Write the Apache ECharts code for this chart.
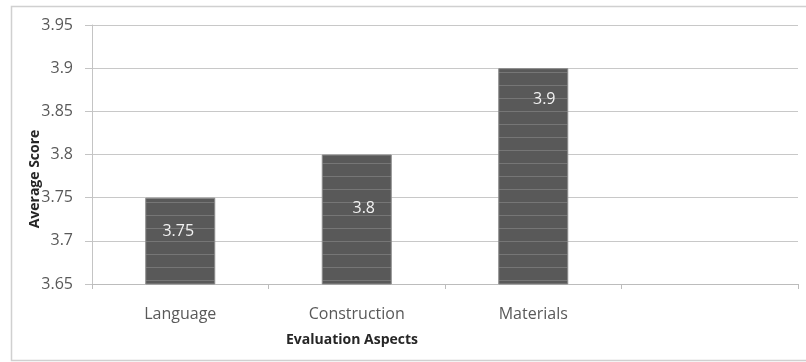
<!DOCTYPE html>
<html>
<head>
<meta charset="utf-8">
<script src="https://cdn.jsdelivr.net/npm/echarts@6/dist/echarts.min.js"></script>
<style>
  html, body { margin: 0; padding: 0; background: #ffffff; }
  #chart { width: 806px; height: 362px; }
</style>
</head>
<body>
<div id="chart"></div>
<script>
// Average evaluation score per aspect (last slot is an empty category)
const categories = ['Language', 'Construction', 'Materials', ''];
const scores = [3.75, 3.8, 3.9, null];
const yTicks = { min: 3.65, max: 3.95, step: 0.05 };

// Where each value label sits inside its bar: [x, y] from the bar's top-left corner
const labelSpots = [[33, 34], [42, 54], [46, 31]];

const FONT = '"Open Sans", "DejaVu Sans", sans-serif';
const TEXT_GREY = '#595959';

// Horizontal hairline texture used to fill the bars
function stripePattern() {
  const c = document.createElement('canvas');
  c.width = 8;
  c.height = 13;
  const ctx = c.getContext('2d');
  ctx.fillStyle = '#595959';
  ctx.fillRect(0, 0, 8, 13);
  ctx.fillStyle = '#767676';
  ctx.fillRect(0, 7, 8, 1);
  return c;
}

const barData = scores.map((v, i) => {
  if (v === null) return null;
  return {
    value: v,
    label: {
      show: true,
      position: labelSpots[i],
      align: 'center',
      verticalAlign: 'middle'
    }
  };
});

const chart = echarts.init(document.getElementById('chart'), null, { renderer: 'canvas' });

chart.setOption({
  animation: false,
  backgroundColor: '#ffffff',
  grid: { left: 92, right: 8, top: 25, bottom: 78, containLabel: false },
  xAxis: {
    type: 'category',
    data: categories,
    boundaryGap: true,
    axisLine: { show: true, lineStyle: { color: '#bcbcbc', width: 1 } },
    axisTick: { show: true, alignWithLabel: false, length: 5, lineStyle: { color: '#bcbcbc' } },
    axisLabel: { color: TEXT_GREY, fontFamily: FONT, fontSize: 16, margin: 22 },
    splitLine: { show: false }
  },
  yAxis: {
    type: 'value',
    min: yTicks.min,
    max: yTicks.max,
    interval: yTicks.step,
    axisLine: { show: true, lineStyle: { color: '#c4c4c4', width: 1 } },
    axisTick: { show: true, length: 7, lineStyle: { color: '#c4c4c4' } },
    axisLabel: { color: TEXT_GREY, fontFamily: FONT, fontSize: 16, margin: 19 },
    splitLine: { show: true, lineStyle: { color: '#c8c8c8', width: 1 } }
  },
  series: [{
    type: 'bar',
    data: barData,
    barWidth: 70,
    itemStyle: {
      color: { image: stripePattern(), repeat: 'repeat' },
      borderColor: '#8a8a8a',
      borderWidth: 1
    },
    label: {
      color: '#f2f2f2',
      fontFamily: FONT,
      fontSize: 16
    }
  }],
  graphic: [
    {
      type: 'rect',
      silent: true,
      z: -10,
      shape: { x: 11.5, y: 6.5, width: 800, height: 354 },
      style: { fill: 'none', stroke: '#d0d0d0', lineWidth: 1.5 }
    },
    {
      type: 'text',
      x: 352,
      y: 340,
      style: {
        text: 'Evaluation Aspects',
        font: 'bold 14px ' + FONT,
        fill: '#262626',
        textAlign: 'center',
        textVerticalAlign: 'middle'
      }
    },
    {
      type: 'text',
      x: 35,
      y: 179,
      rotation: Math.PI / 2,
      style: {
        text: 'Average Score',
        font: 'bold 14px ' + FONT,
        fill: '#262626',
        textAlign: 'center',
        textVerticalAlign: 'middle'
      }
    }
  ]
});
</script>
</body>
</html>
